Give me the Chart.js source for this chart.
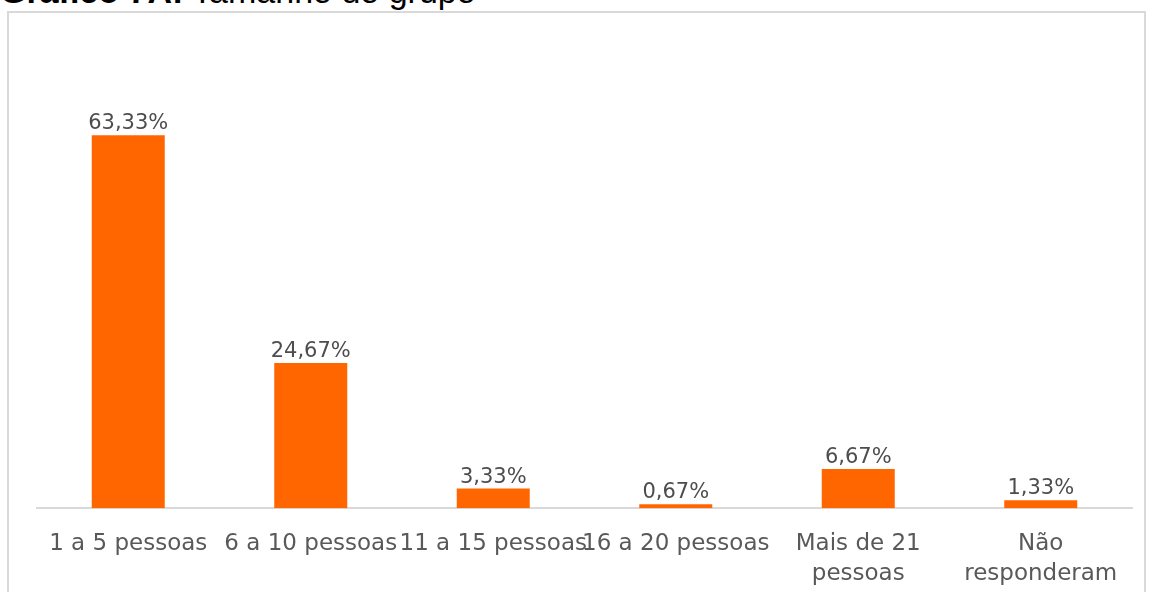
<!DOCTYPE html>
<html>
<head>
<meta charset="utf-8">
<script src="https://cdn.jsdelivr.net/npm/chart.js@4"></script>
<style>
  body { margin: 0; width: 1150px; height: 592px; overflow: hidden; background: #fff; position: relative; }
  #titulo { position: absolute; left: 0; top: -28px; font-family: "Liberation Sans", Arial, sans-serif; font-size: 34px; color: #000; white-space: nowrap; }
  #caixa { position: absolute; left: 7px; top: 11px; width: 1139px; height: 600px; border: 2px solid #d9d9d9; box-sizing: border-box; }
  #grafico { position: absolute; left: 0; top: 0; }
</style>
</head>
<body>
<div id="titulo"><b>Gráfico 7A:</b> Tamanho do grupo</div>
<div id="caixa"></div>
<canvas id="grafico" width="1150" height="610"></canvas>
<script>
// DADOS

const categorias = ['1 a 5 pessoas', '6 a 10 pessoas', '11 a 15 pessoas', '16 a 20 pessoas', ['Mais de 21', 'pessoas'], ['Não', 'responderam']];
const valores = [63.33, 24.67, 3.33, 0.67, 6.67, 1.33];
const rotulos = ['63,33%', '24,67%', '3,33%', '0,67%', '6,67%', '1,33%'];

const fonte = '"DejaVu Sans", sans-serif';

// Rotulos acima das barras
const rotulosPlugin = {
    id: 'rotulos',
    afterDatasetsDraw(chart) {
        const ctx = chart.ctx;
        const meta = chart.getDatasetMeta(0);
        ctx.save();
        ctx.font = '21px ' + fonte;
        ctx.fillStyle = '#4d4d4d';
        ctx.textAlign = 'center';
        ctx.textBaseline = 'alphabetic';
        meta.data.forEach((bar, i) => {
            ctx.fillText(rotulos[i], bar.x, bar.y - 6);
        });
        ctx.restore();
    }
};

const ctx = document.getElementById('grafico').getContext('2d');
new Chart(ctx, {
    type: 'bar',
    data: {
        labels: categorias,
        datasets: [{
            data: valores,
            backgroundColor: '#ff6600',
            borderWidth: 0,
            categoryPercentage: 1,
            barPercentage: 0.4
        }]
    },
    options: {
        responsive: false,
        animation: false,
        layout: { padding: { left: 37, right: 18, top: 96, bottom: 0 } },
        plugins: { legend: { display: false }, tooltip: { enabled: false } },
        scales: {
            y: { display: false, min: 0, max: 70 },
            x: {
                grid: { display: false, drawTicks: false },
                border: { display: true, color: '#d9d9d9', width: 2 },
                ticks: {
                    font: { family: fonte, size: 23, lineHeight: 1.3 },
                    color: '#595959',
                    padding: 21,
                    maxRotation: 0,
                    minRotation: 0,
                    autoSkip: false
                }
            }
        }
    },
    plugins: [rotulosPlugin]
});
</script>
</body>
</html>
